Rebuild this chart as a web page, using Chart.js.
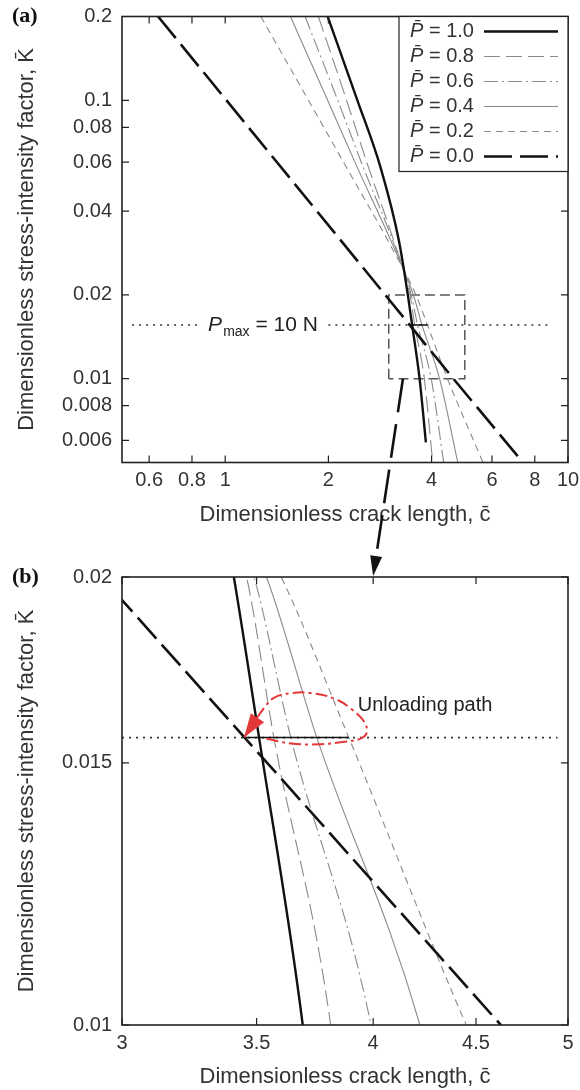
<!DOCTYPE html>
<html>
<head>
<meta charset="utf-8">
<script src="https://cdn.jsdelivr.net/npm/chart.js@4.4.0/dist/chart.umd.min.js"></script>
<style>
  body { margin: 0; background: #fff; }
  #wrap { position: relative; width: 580px; height: 1090px; }
  #chartA { position: absolute; left: 0; top: 0; }
  #chartB { position: absolute; left: 0; top: 560px; }
  #over { position: absolute; left: 0; top: 0; pointer-events: none; }
</style>
</head>
<body>
<div id="wrap">
  <canvas id="chartA" width="580" height="560"></canvas>
  <canvas id="chartB" width="580" height="530"></canvas>
  <canvas id="over" width="580" height="1090"></canvas>
</div>
<script>
// dimensionless load levels, one curve each
const loads = ['1.0', '0.8', '0.6', '0.4', '0.2', '0.0'];

// K levels where the curves were read
const kRead = [0.2, 0.1, 0.0573, 0.0314, 0.02, 0.0156, 0.01, 0.005];

// crack length c at those K levels
const cP10 = [1.99, 2.43, 2.84, 3.21, 3.41, 3.51, 3.69, 3.85];
const kP10 = [0.2, 0.1, 0.0573, 0.0314, 0.02, 0.0156, 0.01, 0.0059];
const cP08 = [1.87, 2.26, 2.62, 3.10, 3.46, 3.57, 3.81, 4.03];
const cP06 = [1.71, 2.13, 2.53, 3.08, 3.49, 3.64, 3.99, 4.34];
const cP04 = [1.55, 1.99, 2.43, 3.04, 3.54, 3.75, 4.22, 4.77];
const cP02 = [1.27, 1.75, 2.26, 2.98, 3.60, 3.89, 4.45, 5.65];
const cP00 = [0.637, 3.0, 4.63, 7.39];
const kP00 = [0.2, 0.0193, 0.01, 0.005];

// K at P max = 10 N, and the pieces of the dotted line
const pmaxK = 0.0156;
const pmaxLineA = [0.535, 0.845, 2.0, 8.9];
const pmaxLineB = [3.0, 4.94];
const loadSegC = [3.45, 3.89];

// unloading path (red) in panel b
const pathC = [3.54, 3.64, 3.76, 3.87, 3.94, 3.97, 3.96, 3.90, 3.83, 3.73, 3.64, 3.57, 3.53, 3.45];
const pathK = [0.01557, 0.01546, 0.01544, 0.0155, 0.01557, 0.01571, 0.01598, 0.01631, 0.01656, 0.01671, 0.01671, 0.01659, 0.01633, 0.0156];

// zoom box and arrow between panels
const boxC = [3, 3, 5, 5, 3];
const boxK = [0.01, 0.02, 0.02, 0.01, 0.01];
const zoomFrom = [3.3, 0.01];
const zoomTo = [4.0, 0.02];

// axis ticks
const xTicksA = [0.6, 0.8, 1, 2, 4, 6, 8, 10];
const yTicksA = [0.006, 0.008, 0.01, 0.02, 0.04, 0.06, 0.08, 0.1, 0.2];
const xTicksB = [3, 3.5, 4, 4.5, 5];
const yTicksB = [0.01, 0.015, 0.02];

const FONT = '"Liberation Sans", Arial, sans-serif';
Chart.defaults.font.family = FONT;
Chart.defaults.font.size = 20;
Chart.defaults.color = '#333';

const gray = '#8a8a8a';
const curveStyle = [
  { color: '#111', width: 2.4, dash: [] },
  { color: gray, width: 1.1, dash: [16, 6] },
  { color: gray, width: 1.1, dash: [14, 4, 2, 4] },
  { color: gray, width: 1.1, dash: [] },
  { color: gray, width: 1.1, dash: [7, 5] },
  { color: '#111', width: 2.6, dash: [28, 8] }
];
const curveC = [cP10, cP08, cP06, cP04, cP02, cP00];
const curveK = [kP10, kRead, kRead, kRead, kRead, kP00];

const pts = (cs, ks) => cs.map((c, i) => ({ x: c, y: ks[i] }));

function curveSets() {
  return loads.map((p, i) => {
    const st = curveStyle[i];
    const straight = p === '0.0';
    return {
      label: p,
      curve: true,
      data: pts(curveC[i], curveK[i]),
      borderColor: st.color,
      borderWidth: st.width,
      borderDash: st.dash,
      pointRadius: 0,
      tension: straight ? 0 : 0.4,
      cubicInterpolationMode: straight ? 'default' : 'monotone',
      order: st.color === gray ? 2 : 1
    };
  });
}

function flatLine(xs, label) {
  const data = [];
  for (let i = 0; i < xs.length; i += 2) {
    if (i > 0) data.push({ x: Math.sqrt(xs[i - 1] * xs[i]), y: null });
    data.push({ x: xs[i], y: pmaxK }, { x: xs[i + 1], y: pmaxK });
  }
  return { label, data, borderColor: '#333', borderWidth: 1.6, borderDash: [2, 5], pointRadius: 0, tension: 0, order: 3 };
}

function segSet() {
  return { label: 'seg', data: loadSegC.map(c => ({ x: c, y: pmaxK })), borderColor: '#111', borderWidth: 1.5, pointRadius: 0, tension: 0, order: 1 };
}

function axes(xr, xTicks, yr, yTicks, xHeight, xTitlePad) {
  const tickOpts = { callback: v => String(v), autoSkip: false, maxRotation: 0, minRotation: 0, color: '#333', font: { size: 20 } };
  return {
    x: {
      type: 'logarithmic', min: xr[0], max: xr[1],
      afterBuildTicks: ax => { ax.ticks = xTicks.map(v => ({ value: v })); },
      afterFit: ax => { ax.height = xHeight; ax.paddingLeft = 0; ax.paddingRight = 0; },
      grid: { display: false, drawTicks: false },
      border: { display: false },
      ticks: Object.assign({ padding: 6 }, tickOpts),
      title: { display: true, text: 'Dimensionless crack length, c\u0304', color: '#333', font: { size: 22 }, padding: { top: 0, bottom: xTitlePad } }
    },
    y: {
      type: 'logarithmic', min: yr[0], max: yr[1],
      afterBuildTicks: ax => { ax.ticks = yTicks.map(v => ({ value: v })); },
      afterFit: ax => { ax.width = 122; ax.paddingTop = 0; ax.paddingBottom = 0; },
      grid: { display: false, drawTicks: false },
      border: { display: false },
      ticks: Object.assign({ padding: 10 }, tickOpts),
      title: { display: true, text: 'Dimensionless stress-intensity factor, K\u0304', color: '#333', font: { size: 22 }, padding: { top: 14, bottom: 0 } }
    }
  };
}

function drawFrame(chart) {
  const { ctx, chartArea: a, scales: { x, y } } = chart;
  ctx.save();
  ctx.strokeStyle = '#222';
  ctx.lineWidth = 1.2;
  ctx.beginPath();
  x.ticks.forEach(t => {
    const px = x.getPixelForValue(t.value);
    ctx.moveTo(px, a.bottom); ctx.lineTo(px, a.bottom - 7);
    ctx.moveTo(px, a.top); ctx.lineTo(px, a.top + 7);
  });
  y.ticks.forEach(t => {
    const py = y.getPixelForValue(t.value);
    ctx.moveTo(a.left, py); ctx.lineTo(a.left + 7, py);
    ctx.moveTo(a.right, py); ctx.lineTo(a.right - 7, py);
  });
  ctx.stroke();
  ctx.lineWidth = 1.6;
  ctx.strokeRect(a.left, a.top, a.right - a.left, a.bottom - a.top);
  ctx.restore();
}

function panelLabel(chart, text) {
  const { ctx, chartArea: a } = chart;
  ctx.save();
  ctx.font = 'bold 22px "Liberation Serif", serif';
  ctx.fillStyle = '#111';
  ctx.textBaseline = 'middle';
  ctx.fillText(text, 12, a.top);
  ctx.restore();
}

function drawLegend(chart) {
  const { ctx, chartArea: a } = chart;
  const w = 169, h = 155, left = a.right - w, top = a.top;
  ctx.save();
  ctx.fillStyle = '#fff';
  ctx.fillRect(left, top, w, h);
  ctx.strokeStyle = '#222';
  ctx.lineWidth = 1.2;
  ctx.strokeRect(left, top, w, h);
  ctx.textBaseline = 'middle';
  chart.data.datasets.filter(d => d.curve).forEach((d, i) => {
    const cy = top + 15 + i * 25;
    ctx.fillStyle = '#333';
    ctx.font = 'italic 20px ' + FONT;
    ctx.fillText('P\u0304', left + 11, cy);
    const pw = ctx.measureText('P\u0304').width;
    ctx.font = '20px ' + FONT;
    ctx.fillText(' = ' + d.label, left + 11 + pw, cy);
    ctx.strokeStyle = d.borderColor;
    ctx.lineWidth = d.borderWidth;
    ctx.setLineDash(d.borderDash);
    ctx.beginPath();
    ctx.moveTo(left + 85, cy);
    ctx.lineTo(left + 159, cy);
    ctx.stroke();
    ctx.setLineDash([]);
  });
  ctx.restore();
}

function pmaxLabel(chart) {
  const { ctx, scales: { x, y } } = chart;
  let px = x.getPixelForValue(pmaxLineA[1]) + 8;
  const py = y.getPixelForValue(pmaxK);
  ctx.save();
  ctx.fillStyle = '#222';
  ctx.textBaseline = 'middle';
  ctx.font = 'italic 21px ' + FONT;
  ctx.fillText('P', px, py);
  px += ctx.measureText('P').width + 1;
  ctx.font = '14px ' + FONT;
  ctx.fillText('max', px, py + 7);
  px += ctx.measureText('max').width;
  ctx.font = '21px ' + FONT;
  ctx.fillText(' = 10 N', px, py);
  ctx.restore();
}

const pluginA = {
  id: 'panelA',
  afterDatasetsDraw(chart) {
    drawFrame(chart);
    drawLegend(chart);
    pmaxLabel(chart);
    panelLabel(chart, '(a)');
  }
};

const pluginB = {
  id: 'panelB',
  afterDatasetsDraw(chart) {
    const { ctx, scales: { x, y } } = chart;
    // red arrow head at the end of the unloading path
    const idx = chart.data.datasets.findIndex(d => d.label === 'path');
    const p = chart.getDatasetMeta(idx).data;
    const tip = p[p.length - 1], prev = p[p.length - 2];
    const ang = Math.atan2(tip.y - prev.y, tip.x - prev.x);
    const L = 24, W = 8;
    ctx.save();
    ctx.fillStyle = '#e2383a';
    ctx.beginPath();
    ctx.moveTo(tip.x, tip.y);
    ctx.lineTo(tip.x - L * Math.cos(ang) + W * Math.sin(ang), tip.y - L * Math.sin(ang) - W * Math.cos(ang));
    ctx.lineTo(tip.x - L * Math.cos(ang) - W * Math.sin(ang), tip.y - L * Math.sin(ang) + W * Math.cos(ang));
    ctx.closePath();
    ctx.fill();
    ctx.fillStyle = '#222';
    ctx.font = '20px ' + FONT;
    ctx.textBaseline = 'middle';
    ctx.fillText('Unloading path', x.getPixelForValue(3.93), y.getPixelForValue(0.0164));
    ctx.restore();
    drawFrame(chart);
    panelLabel(chart, '(b)');
  }
};

const chartA = new Chart(document.getElementById('chartA'), {
  type: 'line',
  data: {
    datasets: curveSets().concat([
      flatLine(pmaxLineA, 'pmax'),
      segSet(),
      { label: 'box', data: pts(boxC, boxK), borderColor: '#555', borderWidth: 1.5, borderDash: [10, 5], pointRadius: 0, tension: 0, order: 3 }
    ])
  },
  options: {
    responsive: false,
    animation: false,
    events: [],
    layout: { padding: { left: 0, right: 12, top: 16.5, bottom: 0 } },
    plugins: { legend: { display: false }, tooltip: { enabled: false } },
    scales: axes([0.5, 10], xTicksA, [0.005, 0.2], yTicksA, 97.5, 32)
  },
  plugins: [pluginA]
});

const chartB = new Chart(document.getElementById('chartB'), {
  type: 'line',
  data: {
    datasets: curveSets().concat([
      flatLine(pmaxLineB, 'pmax'),
      segSet(),
      { label: 'path', data: pts(pathC, pathK), borderColor: '#e2383a', borderWidth: 2, borderDash: [12, 4, 3, 4], pointRadius: 0, tension: 0.4, order: 0 }
    ])
  },
  options: {
    responsive: false,
    animation: false,
    events: [],
    layout: { padding: { left: 0, right: 12, top: 17, bottom: 0 } },
    plugins: { legend: { display: false }, tooltip: { enabled: false } },
    scales: axes([3, 5], xTicksB, [0.01, 0.02], yTicksB, 65, 0)
  },
  plugins: [pluginB]
});

// dashed arrow from the zoom box in (a) down to panel (b)
(function drawArrow() {
  const ctx = document.getElementById('over').getContext('2d');
  const offB = 560;
  const x0 = chartA.scales.x.getPixelForValue(zoomFrom[0]);
  const y0 = chartA.scales.y.getPixelForValue(zoomFrom[1]);
  const x1 = chartB.scales.x.getPixelForValue(zoomTo[0]);
  const y1 = chartB.scales.y.getPixelForValue(zoomTo[1]) + offB - 1;
  const ang = Math.atan2(y1 - y0, x1 - x0);
  const L = 20, W = 6;
  const bx = x1 - L * Math.cos(ang), by = y1 - L * Math.sin(ang);
  ctx.strokeStyle = '#111';
  ctx.lineWidth = 2.6;
  ctx.setLineDash([34, 12]);
  ctx.beginPath();
  ctx.moveTo(x0, y0);
  ctx.lineTo(bx, by);
  ctx.stroke();
  ctx.setLineDash([]);
  ctx.fillStyle = '#111';
  ctx.beginPath();
  ctx.moveTo(x1, y1);
  ctx.lineTo(bx + W * Math.sin(ang), by - W * Math.cos(ang));
  ctx.lineTo(bx - W * Math.sin(ang), by + W * Math.cos(ang));
  ctx.closePath();
  ctx.fill();
})();
</script>
</body>
</html>
